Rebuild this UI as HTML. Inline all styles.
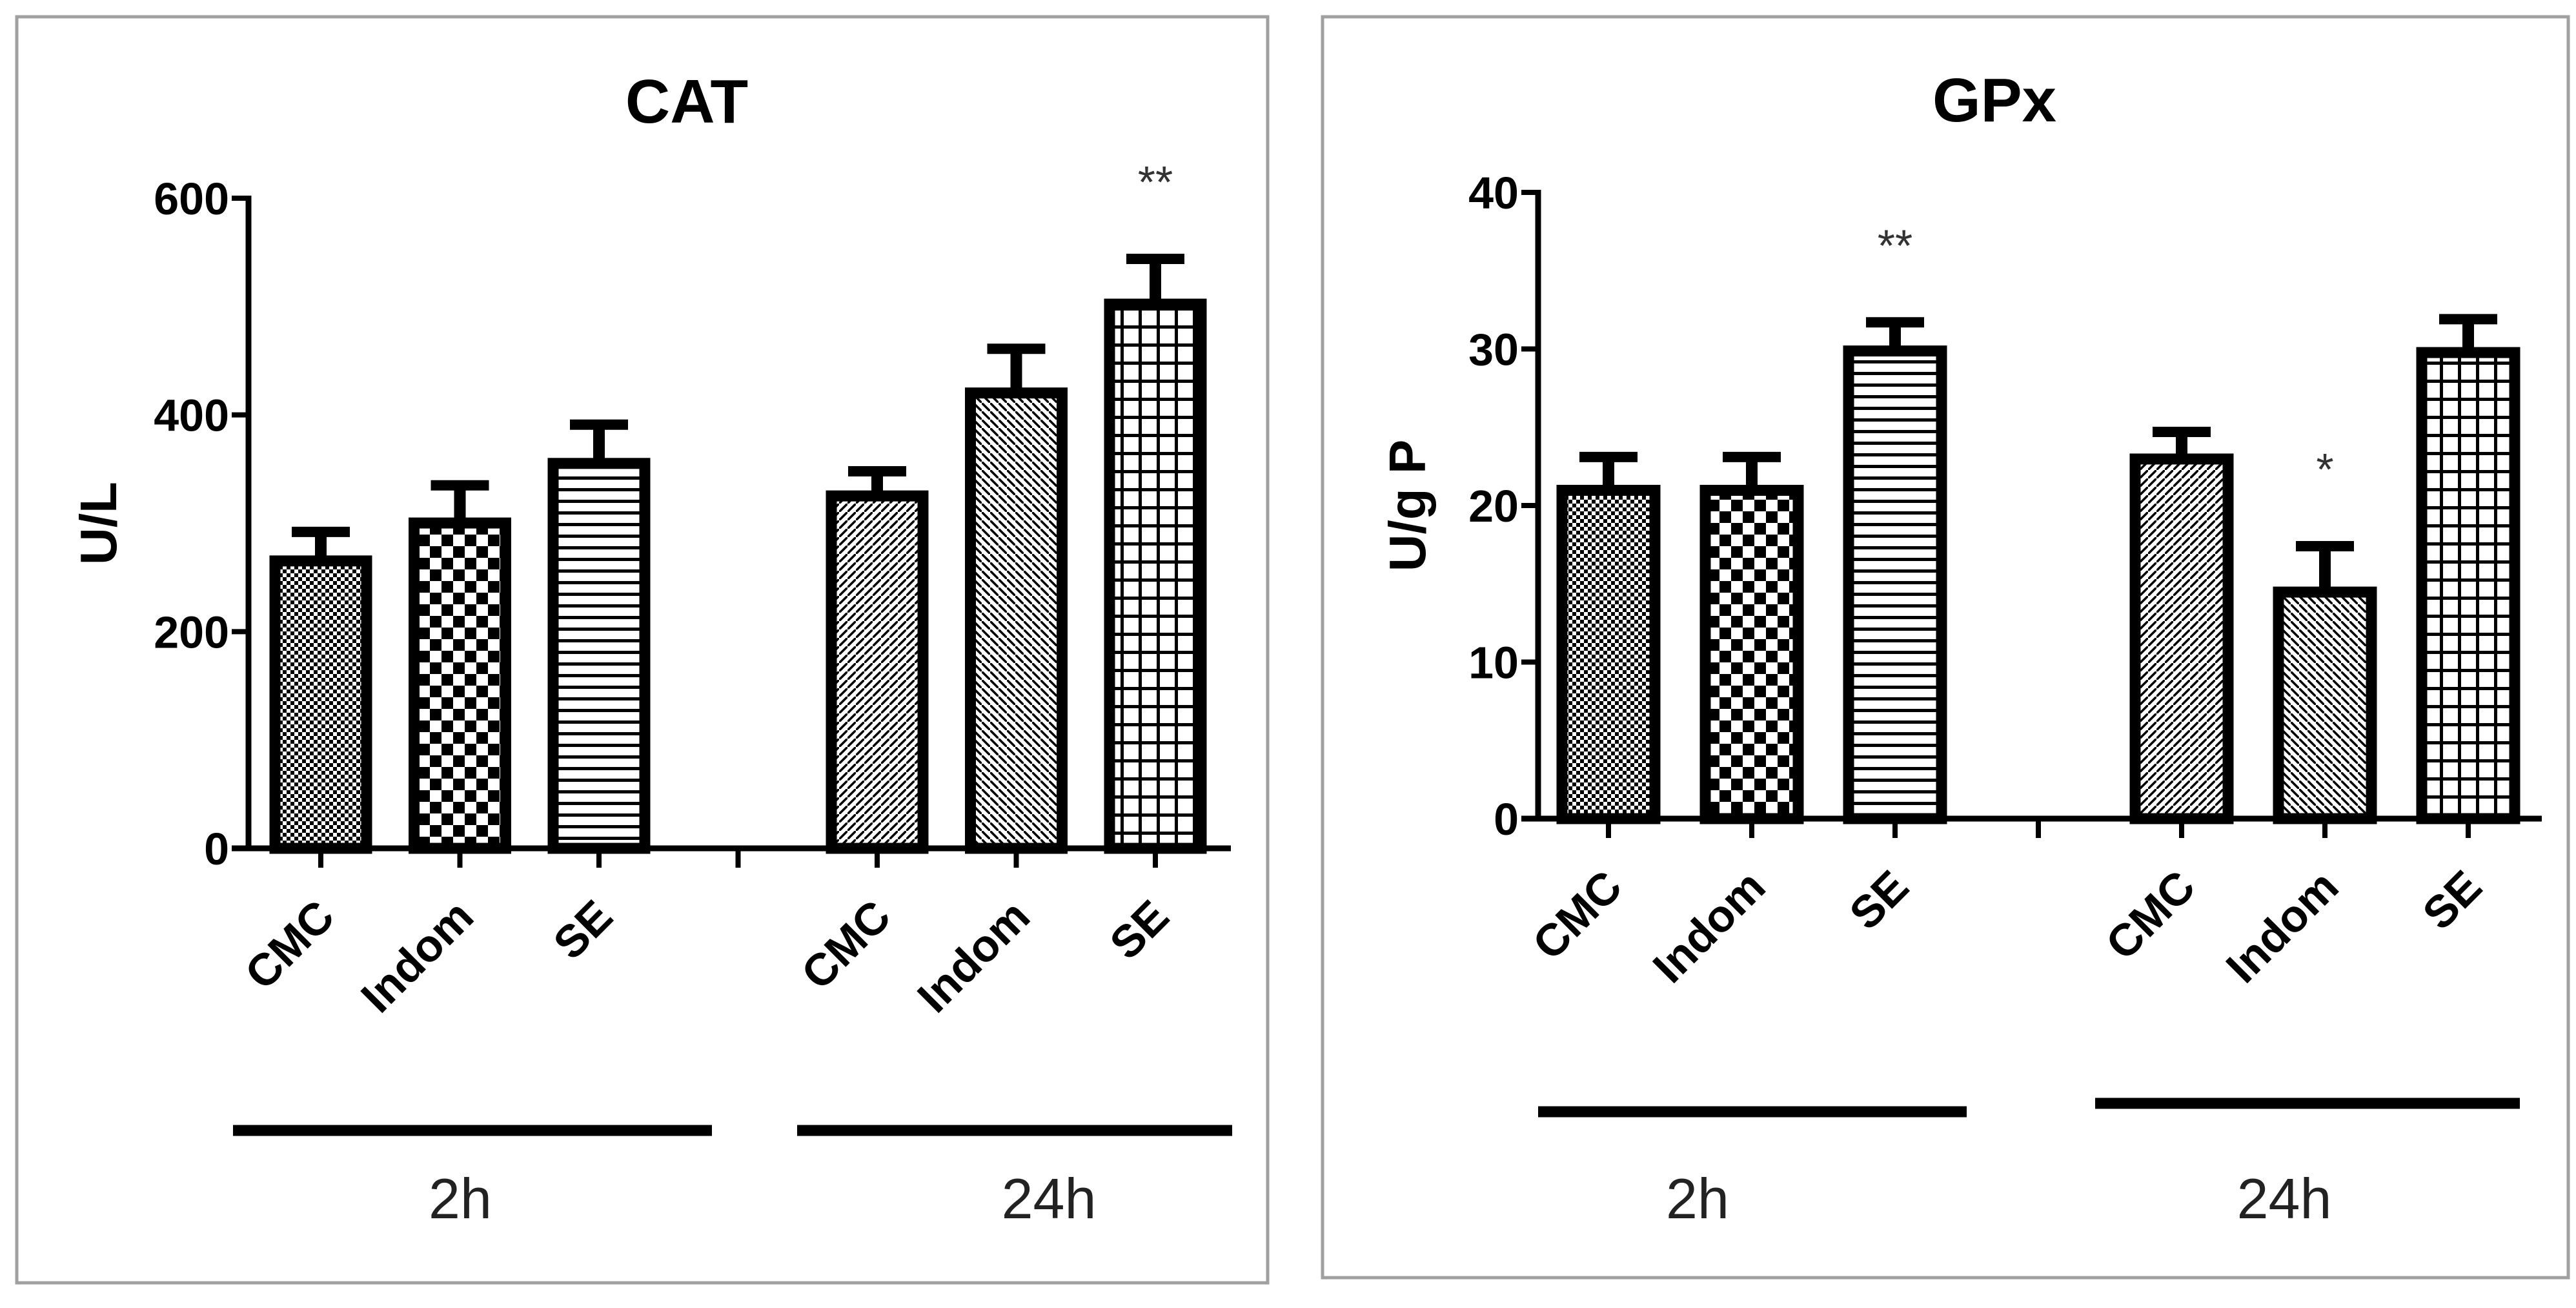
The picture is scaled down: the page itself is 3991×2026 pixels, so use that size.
<!DOCTYPE html>
<html><head><meta charset="utf-8"><style>
html,body{margin:0;padding:0;background:#fff}
svg{display:block}
text{font-family:"Liberation Sans",Arial,sans-serif}
</style></head><body>
<svg id="chart" width="3991" height="2026" viewBox="0 0 3991 2026" xmlns="http://www.w3.org/2000/svg">
<defs>
<pattern id="p0" width="12" height="12" patternUnits="userSpaceOnUse"><rect width="12" height="12" fill="#fff"/><rect width="6" height="6" fill="#000"/><rect x="6" y="6" width="6" height="6" fill="#000"/></pattern>
<pattern id="p1" width="36" height="36" patternUnits="userSpaceOnUse"><rect width="36" height="36" fill="#fff"/><rect width="18" height="18" fill="#000"/><rect x="18" y="18" width="18" height="18" fill="#000"/></pattern>
<pattern id="p2" width="18" height="18" patternUnits="userSpaceOnUse"><rect width="18" height="18" fill="#fff"/><rect width="18" height="5" fill="#000"/></pattern>
<pattern id="p3" width="13" height="13" patternUnits="userSpaceOnUse"><rect width="13" height="13" fill="#fff"/><path d="M-2,15 L15,-2" stroke="#000" stroke-width="3.5"/></pattern>
<pattern id="p4" width="13" height="13" patternUnits="userSpaceOnUse"><rect width="13" height="13" fill="#fff"/><path d="M-2,-2 L15,15" stroke="#000" stroke-width="3.5"/></pattern>
<pattern id="p5" width="28" height="28" patternUnits="userSpaceOnUse"><rect width="28" height="28" fill="#fff"/><rect width="5" height="28" fill="#000"/><rect width="28" height="5" fill="#000"/></pattern>
</defs>
</svg>
<script>
const categories = ["CMC","Indom","SE","CMC","Indom","SE"];
const catValues = [270, 305, 360, 330, 425, 507];
const catErrors = [22, 30, 31, 18, 36, 37];
const catStars = ["", "", "", "", "", "**"];
const catTicks = [0, 200, 400, 600];
const gpxValues = [21.3, 21.3, 30.2, 23.3, 14.8, 30.1];
const gpxErrors = [1.8, 1.8, 1.5, 1.4, 2.6, 1.8];
const gpxStars = ["", "", "**", "", "*", ""];
const gpxTicks = [0, 10, 20, 30, 40];
const groups = ["2h", "24h"];

const svg = document.getElementById('chart');
const NS = "http://www.w3.org/2000/svg";
function el(tag, attrs, parent) {
  const e = document.createElementNS(NS, tag);
  for (const k in attrs) e.setAttribute(k, attrs[k]);
  (parent || svg).appendChild(e);
  return e;
}

function panel(cfg) {
  const g = el('g', {});
  
  
  const fr = el('rect', {x: cfg.frame[0], y: cfg.frame[1], width: cfg.frame[2], height: cfg.frame[3], fill: 'none', stroke: '#a0a0a0', 'stroke-width': 5}, g);
  
  
  const yScale = v => cfg.y0 - (v / cfg.max) * (cfg.y0 - cfg.yTop);
  const xPos = i => cfg.x0 + cfg.step * (i < 3 ? i : i + 1);
  const t = el('text', {x: cfg.titleX, y: cfg.titleY, 'font-size': 96, 'font-weight': 'bold', 'text-anchor': 'middle'}, g);
  t.textContent = cfg.title;
  
  
  const yl = el('text', {x: 0, y: 0, 'font-size': 80, 'font-weight': 'bold', 'text-anchor': 'middle', transform: `translate(${cfg.ylabX},${(cfg.y0 + cfg.yTop) / 2}) rotate(-90)`}, g);
  yl.textContent = cfg.ylabel;
  
  
  // y axis
  const ya = el('line', {x1: cfg.axX, y1: cfg.yTop - 4, x2: cfg.axX, y2: cfg.y0 + 4, stroke: '#000', 'stroke-width': 9}, g);
  
  
  cfg.ticks.forEach(v => {
    const y = yScale(v);
    const tk = el('line', {x1: cfg.axX - 26, y1: y, x2: cfg.axX, y2: y, stroke: '#000', 'stroke-width': 8}, g);
    
    
    const tl = el('text', {x: cfg.axX - 30, y: y + 25, 'font-size': 70, 'font-weight': 'bold', 'text-anchor': 'end'}, g);
    tl.textContent = v;
    
    
  });
  const xa = el('line', {x1: cfg.axX - 26, y1: cfg.y0, x2: cfg.axEnd, y2: cfg.y0, stroke: '#000', 'stroke-width': 9}, g);
  
  
  for (let s = 0; s < 7; s++) {
    const x = cfg.x0 + cfg.step * s;
    const tk = el('line', {x1: x, y1: cfg.y0, x2: x, y2: cfg.y0 + 30, stroke: '#000', 'stroke-width': 8}, g);
    
    
  }
  categories.forEach((c, i) => {
    const cx = xPos(i), v = cfg.values[i], e = cfg.errors[i];
    const yt = yScale(v), ye = yScale(v + e), hw = cfg.bw / 2;
    const eb = el('line', {x1: cx, y1: ye, x2: cx, y2: yt, stroke: '#000', 'stroke-width': 18}, g);
    
    
    const cap = el('line', {x1: cx - 45, y1: ye, x2: cx + 45, y2: ye, stroke: '#000', 'stroke-width': 16}, g);
    
    
    const b = el('rect', {x: cx - hw + 8, y: yt + 8, width: cfg.bw - 16, height: cfg.y0 - yt - 8, fill: `url(#p${i})`, stroke: '#000', 'stroke-width': 17}, g);
    
    
    const lx = cx + 25, ly = cfg.y0 + 110;
    const lab = el('text', {x: 0, y: 0, 'font-size': 70, 'font-weight': 'bold', 'text-anchor': 'end', transform: `translate(${lx},${ly}) rotate(-45)`}, g);
    lab.textContent = c;
    
    
    if (cfg.stars[i]) {
      const st = el('text', {x: cx, y: ye - 95, 'font-size': 70, 'text-anchor': 'middle', fill: '#333'}, g);
      st.textContent = cfg.stars[i];
      
      
    }
  });
  groups.forEach((gname, k) => {
    const L = cfg.groupLines[k];
    const ln = el('line', {x1: L[0], y1: L[2], x2: L[1], y2: L[2], stroke: '#000', 'stroke-width': 17}, g);
    
    
    const tx = el('text', {x: cfg.groupLabelX[k], y: 1887, 'font-size': 88, 'text-anchor': 'middle', fill: '#222'}, g);
    tx.textContent = gname;
    
    
  });
}

panel({name: 'cat', frame: [26, 26, 1938, 1961], title: 'CAT', titleX: 1064, titleY: 190, ylabel: 'U/L', ylabX: 180,
  axX: 385, axEnd: 1907, y0: 1314, yTop: 307, max: 600, ticks: catTicks, x0: 497, step: 215.5, bw: 158,
  values: catValues, errors: catErrors, stars: catStars,
  groupLines: [[361, 1103, 1751], [1235, 1909, 1751]], groupLabelX: [713, 1625]});
panel({name: 'gpx', frame: [2049, 26, 1930, 1953], title: 'GPx', titleX: 3090, titleY: 188, ylabel: 'U/g P', ylabX: 2208,
  axX: 2383, axEnd: 3938, y0: 1268, yTop: 298, max: 40, ticks: gpxTicks, x0: 2492, step: 222, bw: 160,
  values: gpxValues, errors: gpxErrors, stars: gpxStars,
  groupLines: [[2383, 3047, 1722], [3246, 3904, 1709]], groupLabelX: [2630, 3539]});
</script>
</body></html>
